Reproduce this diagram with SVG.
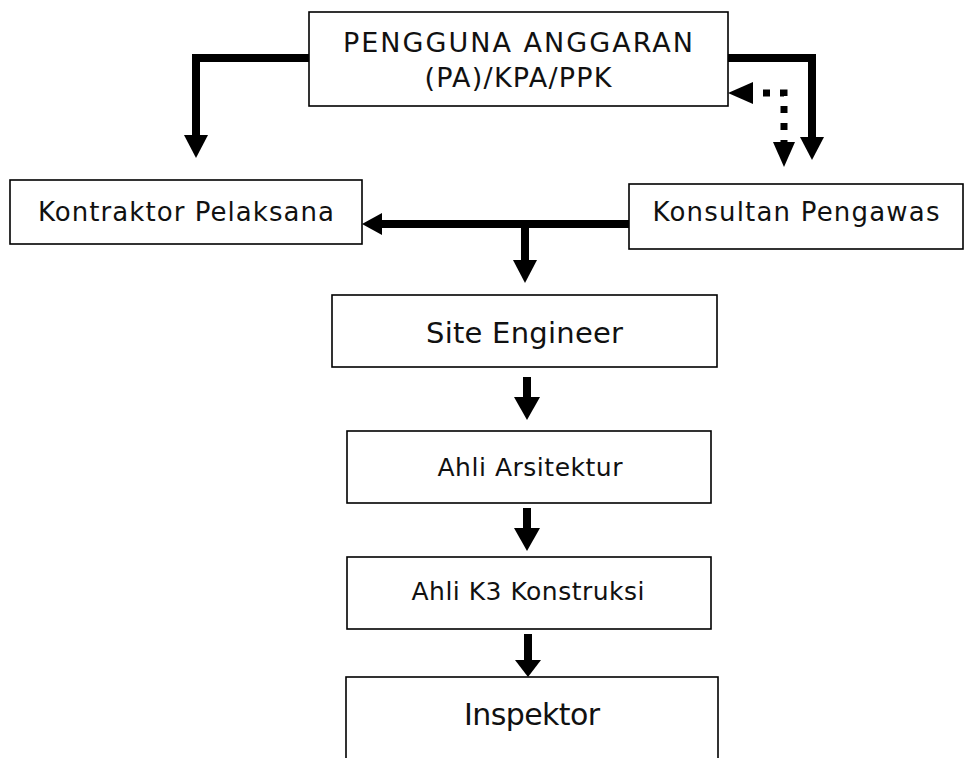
<svg xmlns="http://www.w3.org/2000/svg" width="964" height="758" viewBox="0 0 964 758">
<style>
.box{fill:#fff;stroke:#000;stroke-width:1.6}
.t{font-family:"DejaVu Sans","Liberation Sans",sans-serif;fill:#111;text-anchor:middle}
.ln{fill:none;stroke:#000;stroke-width:8;stroke-linejoin:miter}
.dot{fill:none;stroke:#000;stroke-width:7;stroke-dasharray:7 10;stroke-dashoffset:7}
.ah{fill:#000}
</style>
<rect width="964" height="758" fill="#fff"/>
<g id="connectors">
<polyline class="ln" points="309,58 196,58 196,136"/>
<polygon class="ah" points="184,135 208,135 196,158"/>
<polyline class="ln" points="728,58 812,58 812,138"/>
<polygon class="ah" points="800,137 824,137 812,160"/>
<polyline class="dot" points="753,93 784,93 784,142"/>
<polygon class="ah" points="728,93 753,82 753,104"/>
<polygon class="ah" points="773,142 795,142 784,167"/>
<line class="ln" x1="629" y1="224" x2="381" y2="224"/>
<polygon class="ah" points="362,224 382,213 382,235"/>
<line class="ln" x1="525" y1="224" x2="525" y2="261"/>
<polygon class="ah" points="513,260 537,260 525,283"/>
<line class="ln" x1="527" y1="377" x2="527" y2="398"/>
<polygon class="ah" points="514,397 540,397 527,420"/>
<line class="ln" x1="527" y1="508" x2="527" y2="529"/>
<polygon class="ah" points="514,528 540,528 527,551"/>
<line class="ln" x1="528" y1="634" x2="528" y2="661"/>
<polygon class="ah" points="515,660 541,660 528,677"/>
</g>
<g id="pengguna">
<rect class="box" x="309" y="12" width="419" height="94"/>
<text class="t" x="518" y="52" font-size="27" textLength="350">PENGGUNA ANGGARAN</text>
<text class="t" x="518" y="87" font-size="27" textLength="187">(PA)/KPA/PPK</text>
</g>
<g id="kontraktor">
<rect class="box" x="10" y="180" width="352" height="64"/>
<text class="t" x="186" y="221" font-size="26" textLength="296">Kontraktor Pelaksana</text>
</g>
<g id="konsultan">
<rect class="box" x="629" y="184" width="334" height="65"/>
<text class="t" x="796" y="221" font-size="26" textLength="287">Konsultan Pengawas</text>
</g>
<g id="site-engineer">
<rect class="box" x="332" y="295" width="385" height="72"/>
<text class="t" x="524.5" y="343" font-size="29" textLength="197">Site Engineer</text>
</g>
<g id="ahli-arsitektur">
<rect class="box" x="347" y="431" width="364" height="72"/>
<text class="t" x="530" y="476" font-size="25" textLength="185">Ahli Arsitektur</text>
</g>
<g id="ahli-k3">
<rect class="box" x="347" y="557" width="364" height="72"/>
<text class="t" x="528" y="600" font-size="25" textLength="233">Ahli K3 Konstruksi</text>
</g>
<g id="inspektor">
<rect class="box" x="346" y="677" width="372" height="100"/>
<text class="t" x="532" y="725" font-size="30" textLength="136">Inspektor</text>
</g>
</svg>
